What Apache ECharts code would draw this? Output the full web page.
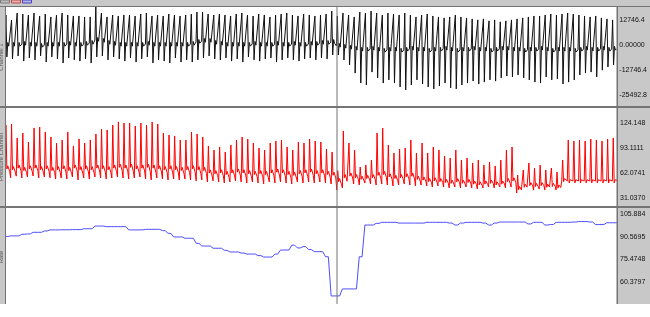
<!DOCTYPE html>
<html><head><meta charset="utf-8">
<script src="https://cdn.jsdelivr.net/npm/echarts@6/dist/echarts.min.js"></script>
<style>html,body{margin:0;padding:0;background:#fff;overflow:hidden}#c{width:650px;height:317px}</style>
</head><body><div id="c"></div>
<script>
// ---- per-beat values ----
const ecgR = [15300,12700,16300,15800,15300,16300,14800,15800,14300,15300,
16300,15300,14800,14800,14300,14300,19800,16300,14300,15300,
14800,15300,15300,14800,15800,16300,14800,15300,14800,15800,
15300,14800,15300,15800,16800,16800,15800,15300,15800,15300,
14800,15800,16300,15300,14800,15800,15300,14300,15300,15800,
16300,15300,14800,15800,15300,14800,15300,15800,17300,
14800,16300,15300,14300,16800,16300,17300,16300,15300,16300,
15800,15300,16300,15300,14300,15300,15800,14800,14300,13800,
14300,15300,14300,13800,13300,12800,13300,12300,12800,11800,
12300,12800,13300,13800,14300,14800,14800,15300,15800,15300,
15800,16300,15800,15300,14800,14300,14800,13800,13300,12800];
const ecgS = [-6100,-7100,-5600,-8200,-6600,-7600,-5600,-8700,-6100,-7100,
-9200,-6600,-7600,-8200,-7100,-9200,-6100,-5600,-7600,-6100,
-7100,-8200,-6600,-8700,-7100,-6100,-9200,-7600,-8200,-9200,
-6600,-8700,-7600,-8700,-7600,-6600,-5600,-7100,-7600,-6600,
-8200,-7100,-8700,-6100,-7600,-8200,-7100,-6600,-8700,-7600,
-6600,-7600,-8200,-7100,-6600,-7600,-6600,-7100,-5100,
-5100,-7650,-10200,-14300,-19400,-20400,-13800,-16800,-19400,-17800,
-19400,-21400,-22900,-20400,-17800,-19900,-21400,-22400,-20900,-19400,
-21900,-22400,-20400,-19400,-18400,-19900,-18900,-17800,-18400,-16800,
-15800,-16300,-15300,-16800,-17800,-18900,-19400,-16300,-17800,-17300,
-19900,-18900,-17800,-15300,-14300,-13800,-16300,-12800,-11200,-10200];
const ecgBase = [0,0,0,500,0,0,-500,0,0,0,
0,500,0,0,500,1000,2500,2000,1000,500,
0,0,0,0,0,500,0,0,0,0,
0,0,0,500,1500,2000,2000,1000,500,0,
0,0,0,0,500,0,0,0,500,0,
0,500,0,0,500,500,1000,1000,1500,
-500,-1000,-1500,-2000,-2500,-2500,-2000,-2500,-3000,-2500,
-2500,-3000,-2500,-2000,-2500,-2500,-3000,-2500,-2500,-2000,
-2500,-3000,-2500,-2500,-2000,-2500,-2500,-3000,-2500,-2000,
-2000,-2500,-2500,-3000,-2500,-2500,-2000,-2500,-3000,-2500,
-2500,-2500,-3000,-2500,-2000,-2500,-2500,-2000,-2500,-2000];
const bpSys = [122,123.3,105.8,112,100.7,118.3,119.5,113.3,107,99.5,
103.3,113.3,95.8,104.5,99.5,103.3,110.8,117,115.8,122,
125.8,124.5,124.5,120.8,124.5,122,125.8,123.3,112,109.5,
108.3,103.3,103.3,113.3,110.8,107,95.8,90.7,94.5,88.2,
97,103.3,107,104.5,99.5,93.2,90.7,99.5,102,103.3,
94.5,90.7,100.7,99.5,104.5,102,100.7,92,88.2,
65,114.5,99.5,90.7,69.5,72,78.2,112,118.3,97,
87,92,93.2,103.3,87,99.5,87,94.5,90.7,83.3,
80.7,90.7,78.2,80.7,74.5,78.2,72,75.7,70.7,78.2,
90.7,94.5,59.4,65.7,74.5,68.2,72,65.7,68.2,63.2,
78.2,103.3,102,103.3,102,104.5,103.3,102,104.5,105.8];
const bpDia = [57,56,58,55.7,56.9,58.2,55.7,57,56,54.4,
55.7,54.4,56.9,53.2,55.7,54.4,56.9,55.7,54.4,55.7,
56.9,55.7,54.4,55.7,56.9,54.4,53.2,55.7,54.4,53.2,
54.4,53.2,54.4,53.2,52,53.2,50.7,52,50.7,49.4,
50.7,52,50.7,49.4,50.7,49.4,48.2,50.7,49.4,50.7,
49.4,48.2,50.7,49.4,50.7,49.4,50.7,49.4,48.2,
40.6,43.2,49.4,48.2,47,49.4,48.2,46.9,48.2,46.9,
45.7,46.9,48.2,46.9,45.7,46.9,45.7,44.4,45.7,44.4,
43.2,44.4,43.2,44.4,43.2,42,43.2,44.4,43.2,44.4,
43.2,44.4,36.9,40.6,41.9,40.6,41.9,40.6,41.9,40.6,
51.9,51.9,51.9,51.9,51.9,51.9,51.9,51.9,51.9,51.9];
const bpNotch = [71,70,72,69,71,72,70,71,69,70,
71,69,72,70,71,70,72,71,70,72,
73,72,73,71,72,73,72,71,70,71,
70,69,70,71,70,69,66,65,66,64,
66,67,66,65,64,65,64,66,67,66,
64,63,65,66,67,65,66,64,63,
55,60,62,60,58,59,60,63,64,61,
59,60,61,62,58,57,55,56,55,54,
53,55,53,54,52,51,52,53,51,52,
55,56,45,48,50,49,50,48,49,47,
55,53.5,53.5,53.5,53.5,53.5,53.5,53.5,53.5,53.5];
const rate = [90.8,91.2,91.2,92.3,92.5,93.6,93.6,94.5,95.2,95.2,
95.3,95.3,95.4,95.4,96,96,97.8,97.8,97.4,97.4,
97.4,97.4,95.2,95.2,95.2,95.6,95.6,95.6,94.7,92.9,
90.5,90.5,89.6,89.6,86.2,84.4,84.4,82.9,82.9,81.5,
80.4,80.4,79.7,79,79,78,77,77,79,81.7,
81.7,85,83.1,84,82,80.6,80.6,77.2,50.9,
50.9,55.6,55.6,55.6,77.2,98.5,98.5,99.6,100.3,100.3,
100.3,99.8,99.8,99.8,99.8,99.8,100.3,100.3,100.3,100.3,
99.8,98.5,99.8,100.3,100.3,100.3,99.8,98.5,99.8,100.5,
100.5,100.5,100.5,100.5,99.2,100.3,100.3,98.5,98.8,100.3,
100.3,100.3,100.5,100.8,100.8,100.5,98.8,98.8,100,100];
const ecgTicks = [-25492.8,-12746.4,0,12746.4];
const bpTicks = [31.037,62.0741,93.1111,124.148];
const rateTicks = [60.3797,75.4748,90.5695,105.884];
const channelNames = ['Channel 1','Pressure Channel','Rate'];

// ---- build sample series (6 samples per beat) ----
const cats=[], ecg=[], bp=[], hr=[];
for (let k=0;k<rate.length;k++){
  const b=ecgBase[k];
  ecg.push(b, ecgR[k], ecgS[k], b+1300, b-600, b);
  const d=bpDia[k], s=bpSys[k], m=bpNotch[k];
  bp.push(d, s, m-4, m, m-2, (d+m)/2);
  for (let j=0;j<6;j++){ hr.push(rate[k]); cats.push(k*6+j); }
}

const chart = echarts.init(document.getElementById('c'), null, {renderer:'canvas'});
const FONT = 'Liberation Sans, Arial, sans-serif';
function yAx(i, min, max, ticks){
  return {gridIndex:i, type:'value', position:'right', min:min, max:max, z:30,
    axisLine:{show:false}, axisTick:{show:false}, splitLine:{show:false},
    axisLabel:{customValues:ticks, formatter:v=>Number(v).toPrecision(6), margin:3,
      fontSize:7, color:'#111', fontFamily:FONT}};
}
function xAx(i){ return {gridIndex:i, type:'category', data:cats, boundaryGap:false, show:false}; }
const gray='#c8c8c8', dark='#747474';
chart.setOption({
  animation:false,
  backgroundColor:'#ffffff',
  grid:[{left:5,width:612,top:7,height:100},{left:5,width:612,top:107,height:100},{left:5,width:612,top:207,height:97}],
  xAxis:[xAx(0),xAx(1),xAx(2)],
  yAxis:[yAx(0,-31611.1,19374.5,ecgTicks), yAx(1,19.4,144.55,bpTicks), yAx(2,45.49,110.58,rateTicks)],
  series:[
    {type:'line', xAxisIndex:0, yAxisIndex:0, data:ecg, showSymbol:false, lineStyle:{width:1,color:'#111'}, itemStyle:{color:'#111'}},
    {type:'line', xAxisIndex:1, yAxisIndex:1, data:bp, showSymbol:false, lineStyle:{width:1,color:'#ff0000'}, itemStyle:{color:'#ff0000'}},
    {type:'line', xAxisIndex:2, yAxisIndex:2, data:hr, showSymbol:false, lineStyle:{width:1,color:'#4d4dff'}, itemStyle:{color:'#4d4dff'}}
  ],
  graphic:[
    {type:'rect', shape:{x:0,y:0,width:650,height:6}, style:{fill:gray}, z:10},
    {type:'rect', shape:{x:0,y:6,width:650,height:1}, style:{fill:dark}, z:10},
    {type:'rect', shape:{x:0.5,y:0,width:9,height:3}, style:{fill:'#bdbdbd',stroke:'#7a7a7a',lineWidth:1}, z:11},
    {type:'rect', shape:{x:11.5,y:0,width:9,height:3}, style:{fill:'#e9b0b0',stroke:'#c04848',lineWidth:1}, z:11},
    {type:'rect', shape:{x:22.5,y:0,width:9,height:3}, style:{fill:'#b0b0e9',stroke:'#4848c0',lineWidth:1}, z:11},
    {type:'rect', shape:{x:0,y:7,width:5,height:297}, style:{fill:gray}, z:10},
    {type:'rect', shape:{x:5,y:7,width:1,height:297}, style:{fill:dark}, z:10},
    {type:'rect', shape:{x:617,y:7,width:33,height:297}, style:{fill:gray}, z:10},
    {type:'rect', shape:{x:616.5,y:7,width:1.5,height:297}, style:{fill:dark}, z:10},
    {type:'rect', shape:{x:0,y:106,width:650,height:2}, style:{fill:dark}, z:10},
    {type:'rect', shape:{x:0,y:206,width:650,height:2}, style:{fill:dark}, z:10},
    {type:'rect', shape:{x:336.5,y:7,width:1,height:297}, style:{fill:dark}, z:10},
    {type:'text', x:1, y:57, rotation:Math.PI/2, style:{text:channelNames[0], fontSize:6, fill:'#555', fontFamily:FONT, align:'center', verticalAlign:'middle'}, z:11},
    {type:'text', x:1, y:157, rotation:Math.PI/2, style:{text:channelNames[1], fontSize:6, fill:'#555', fontFamily:FONT, align:'center', verticalAlign:'middle'}, z:11},
    {type:'text', x:1, y:257, rotation:Math.PI/2, style:{text:channelNames[2], fontSize:6, fill:'#555', fontFamily:FONT, align:'center', verticalAlign:'middle'}, z:11}
  ]
});
</script></body></html>
